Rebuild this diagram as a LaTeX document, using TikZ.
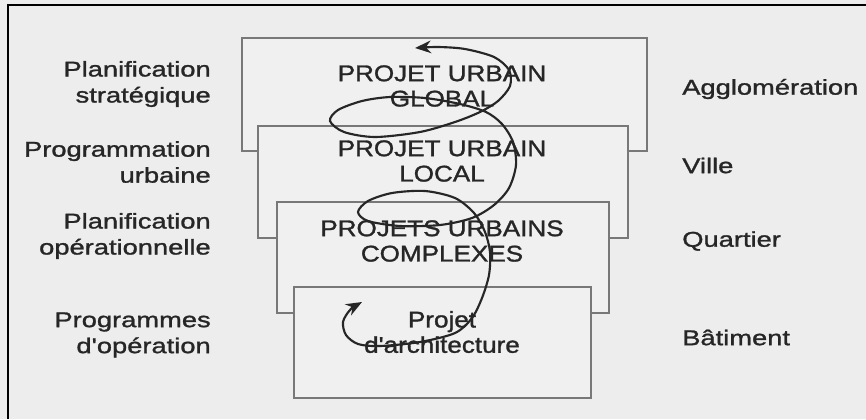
\documentclass[tikz,border=0pt]{standalone}
\usepackage{fontspec}
\setmainfont{Liberation Sans}
\newfontfamily\labelfont{Liberation Sans}[FakeStretch=1.28,FakeBold=1.3]
\newfontfamily\boxfont{Liberation Sans}[FakeStretch=1.15,FakeBold=1.3]
\usetikzlibrary{arrows.meta}
\definecolor{paper}{RGB}{237,237,237}
\definecolor{boxfill}{RGB}{240,240,240}
\definecolor{boxline}{RGB}{120,120,120}
\definecolor{ink}{RGB}{38,38,38}
\begin{document}
\begin{tikzpicture}[x=0.75pt,y=-0.75pt,
        box/.style={draw=boxline,fill=boxfill,line width=1.4pt},
        level/.style={font=\labelfont\fontsize{16}{19.5}\selectfont,text=ink,align=right,anchor=east,inner sep=0pt},
        area/.style={font=\labelfont\fontsize{16}{19.5}\selectfont,text=ink,align=left,anchor=west,inner sep=0pt},
        project/.style={font=\boxfont\fontsize{17}{19}\selectfont,text=ink,align=center,inner sep=0pt},
        spiral/.style={draw=ink,line width=1.6pt,{Stealth[length=12pt,width=9.5pt]}-{Stealth[length=12pt,width=9.5pt]}}]
                \useasboundingbox (0,0) rectangle (866,419);
                \fill[paper] (0,0) rectangle (866,419);
                \draw[line width=1.5pt] (8,419) -- (8,5) -- (866,5);

                % the four nested levels
                \draw[box] (242,38) rectangle (647,151);
                \draw[box] (258,126) rectangle (628,238);
                \draw[box] (277,202) rectangle (609,313);
                \draw[box] (294,287) rectangle (591,398);

                % spiral going up and down through the levels
                \coordinate (low) at (362,302);
                \coordinate (high) at (415,48);
                \draw[spiral] plot[smooth] coordinates {(low) (350,310) (343,322) (346,335) (358,344)
                        (380,346) (420,342) (455,333) (472,318) (482,298) (489,275) (490,252)
                        (485,232) (474,213) (455,198) (425,191) (392,193) (368,201) (358,212)
                        (368,221) (400,226) (440,225) (472,218) (494,205) (509,188) (516,165)
                        (513,142) (502,124) (486,112) (460,104) (425,98) (390,97) (362,101)
                        (338,110) (330,121) (344,132) (375,137) (420,132) (455,122) (480,112)
                        (498,101) (510,86) (509,70) (494,57) (465,49) (438,47) (high)};

                \node[project] (global) at (442,86) {PROJET URBAIN\\GLOBAL};
                \node[project] (local) at (442,161) {PROJET URBAIN\\LOCAL};
                \node[project] (complex) at (442,241) {PROJETS URBAINS\\COMPLEXES};
                \node[project] (archi) at (442,332) {Projet\\d'architecture};

                \node[level] (strat) at (211,84) {Planification\\stratégique};
                \node[level] (prog) at (211,162) {Programmation\\urbaine};
                \node[level] (oper) at (211,236) {Planification\\opérationnelle};
                \node[level] (progop) at (211,335) {Programmes\\d'opération};

                \node[area] (agglo) at (682,89) {Agglomération};
                \node[area] (ville) at (682,165.5) {Ville};
                \node[area] (quart) at (682,241) {Quartier};
                \node[area] (bati) at (682,337.5) {Bâtiment};
            \end{tikzpicture}
\end{document}
